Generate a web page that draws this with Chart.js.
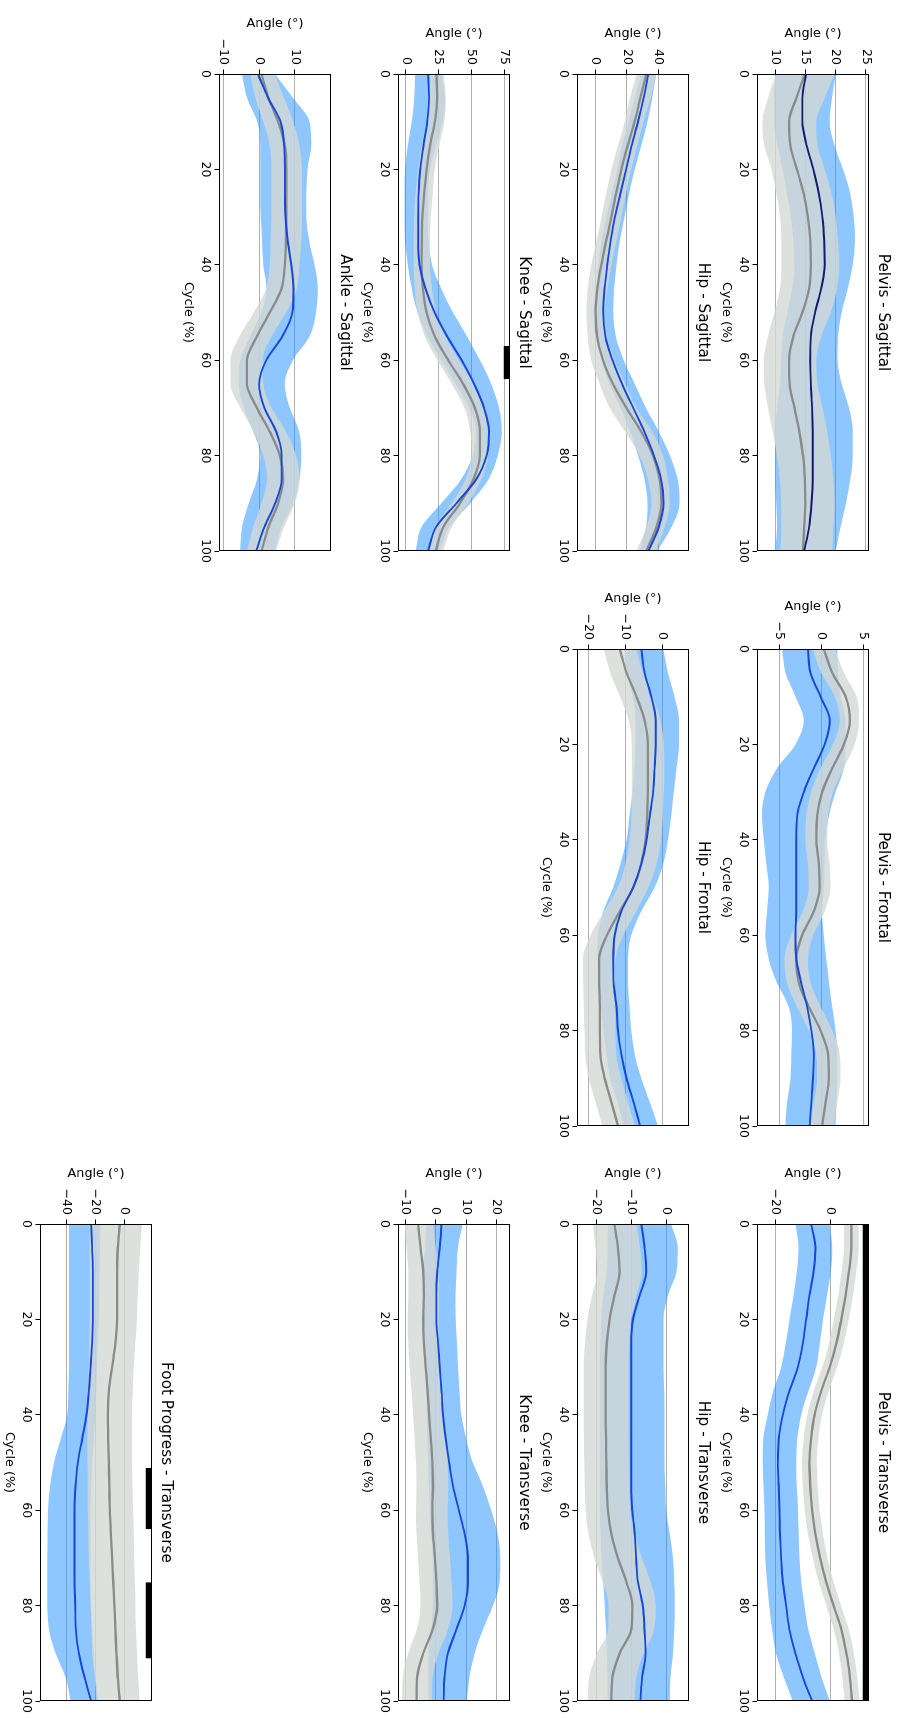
<!DOCTYPE html>
<html>
<head>
<meta charset="utf-8">
<script src="https://cdn.jsdelivr.net/npm/chart.js@4.4.1/dist/chart.umd.min.js"></script>
<style>
  html, body { margin: 0; padding: 0; background: #fff; overflow: hidden; }
  #fig { position: absolute; left: 0; top: 0; width: 1718px; height: 902px;
         transform-origin: 0 0; transform: translate(902px, 0) rotate(90deg); }
  #fig canvas { position: absolute; }
</style>
</head>
<body>
<div id="fig"></div>
<script>
// gait cycle (%) sampled every 5%
const cycle = [0, 5, 10, 15, 20, 25, 30, 35, 40, 45, 50, 55, 60, 65, 70, 75, 80, 85, 90, 95, 100];
const cycleTicks = [0, 20, 40, 60, 80, 100];

// Pelvis - Sagittal
const pelSagTicks = [10, 15, 20, 25];
const pelSagMean = [15.1, 14.5, 14.5, 15.2, 16.3, 17.2, 17.8, 18.1, 18.2, 17.6, 16.6, 15.9, 15.8, 15.9, 16.1, 16.2, 16.2, 16.2, 16.0, 15.6, 14.8];
const pelSagLo = [10.2, 9.8, 9.8, 10.4, 11.2, 11.9, 12.6, 13.0, 13.2, 12.8, 12.0, 11.2, 11.0, 10.8, 10.3, 10.0, 10.0, 10.0, 10.2, 10.3, 10.0];
const pelSagHi = [20.0, 19.4, 19.0, 19.8, 21.2, 22.4, 23.0, 23.2, 22.8, 22.0, 21.0, 20.4, 20.3, 21.0, 22.2, 22.8, 22.8, 22.4, 21.7, 20.8, 20.0];
const pelSagNormMean = [14.9, 13.5, 12.3, 12.5, 13.6, 14.7, 15.4, 15.8, 15.9, 15.6, 14.5, 13.0, 12.3, 12.4, 13.2, 14.0, 14.6, 14.9, 15.0, 14.8, 14.6];
const pelSagNormLo = [10.2, 8.8, 7.9, 8.2, 9.4, 10.2, 10.8, 11.0, 11.0, 10.8, 9.9, 8.8, 8.1, 8.2, 8.8, 9.6, 10.3, 10.8, 11.0, 11.0, 10.9];
const pelSagNormHi = [19.8, 18.2, 16.8, 17.0, 18.2, 19.3, 20.0, 20.4, 20.6, 20.2, 19.2, 17.6, 16.8, 17.0, 17.8, 18.6, 19.2, 19.6, 19.8, 19.6, 19.4];

// Hip - Sagittal
const hipSagTicks = [0, 20, 40];
const hipSagMean = [33.5, 30.5, 27.0, 23.0, 19.5, 16.0, 12.5, 9.8, 7.7, 6.0, 5.2, 6.5, 11.0, 17.0, 24.0, 31.0, 37.0, 41.5, 43.0, 40.0, 33.5];
const hipSagLo = [28.5, 25.0, 21.0, 17.0, 14.0, 10.5, 7.0, 4.0, 2.0, 0.5, -1.0, 0.0, 4.0, 9.0, 16.0, 22.0, 27.0, 31.0, 33.0, 32.0, 28.0];
const hipSagHi = [38.5, 36.0, 33.0, 29.0, 25.0, 21.5, 18.5, 15.5, 13.5, 12.0, 11.5, 13.0, 18.0, 25.0, 32.0, 40.0, 47.0, 52.0, 53.0, 48.0, 39.0];
const hipSagNormMean = [32.2, 28.5, 24.9, 20.5, 16.5, 13.3, 10.3, 7.0, 4.0, 1.5, 0.4, 1.3, 5.0, 11.3, 19.7, 29.0, 36.4, 40.6, 41.6, 38.5, 32.2];
const hipSagNormLo = [26.0, 22.0, 18.6, 14.5, 10.3, 7.0, 4.0, 1.0, -2.3, -4.5, -5.4, -4.5, -2.3, 3.0, 9.2, 19.0, 28.0, 33.3, 35.4, 32.2, 26.0];
const hipSagNormHi = [38.5, 35.0, 30.5, 26.5, 22.8, 19.5, 16.5, 13.5, 10.3, 7.8, 6.1, 7.5, 12.3, 19.0, 26.0, 36.0, 42.7, 45.8, 46.9, 43.7, 38.5];

// Knee - Sagittal
const kneeSagTicks = [0, 25, 50, 75];
const kneeSagMean = [17.0, 17.8, 16.3, 13.5, 11.0, 9.8, 9.5, 9.5, 10.5, 15.0, 22.0, 31.5, 42.5, 52.0, 59.5, 63.3, 61.5, 53.5, 38.5, 23.0, 17.0];
const kneeSagLo = [7.0, 6.5, 4.5, 1.5, -0.5, -1.0, -1.0, -0.5, 1.5, 4.5, 9.0, 16.5, 27.0, 38.0, 48.0, 53.5, 51.0, 42.0, 27.0, 12.0, 7.5];
const kneeSagHi = [27.0, 30.0, 28.0, 23.0, 18.5, 17.0, 17.0, 17.5, 20.0, 27.0, 36.0, 46.5, 56.5, 65.0, 71.0, 73.0, 70.0, 63.0, 49.0, 33.0, 26.0];
const kneeSagNormMean = [23.4, 23.8, 22.1, 18.5, 15.8, 14.0, 12.7, 12.2, 12.0, 13.0, 15.8, 22.1, 32.3, 43.7, 52.6, 56.4, 56.4, 51.4, 41.2, 28.5, 22.9];
const kneeSagNormLo = [18.5, 17.0, 15.5, 12.0, 9.5, 7.5, 6.5, 6.0, 6.0, 7.0, 9.0, 14.5, 24.0, 35.0, 44.5, 49.0, 50.0, 45.5, 35.0, 22.0, 17.5];
const kneeSagNormHi = [29.0, 30.5, 29.5, 25.5, 22.0, 20.5, 19.0, 18.5, 18.5, 20.0, 23.0, 30.0, 40.5, 52.0, 60.5, 63.5, 62.5, 57.5, 47.5, 35.0, 28.5];
const kneeSagBarStart = [57.0];
const kneeSagBarEnd = [64.0];

// Ankle - Sagittal
const ankSagTicks = [-10, 0, 10];
const ankSagMean = [-0.3, 2.5, 6.0, 7.0, 7.2, 7.2, 7.4, 8.0, 9.0, 9.6, 9.3, 6.5, 2.0, 0.0, 1.5, 4.8, 6.3, 6.3, 4.5, 1.5, -0.8];
const ankSagLo = [-4.8, -3.4, -0.5, 0.3, 0.3, 0.3, 0.5, 0.8, 1.2, 2.1, 0.7, -2.5, -5.3, -5.7, -4.3, -1.6, 0.3, -0.6, -2.9, -4.8, -5.3];
const ankSagHi = [4.4, 9.5, 14.1, 14.6, 13.5, 13.2, 13.2, 14.0, 15.5, 16.4, 15.9, 14.1, 9.5, 7.2, 8.6, 11.2, 11.8, 11.3, 9.5, 6.3, 4.4];
const ankSagNormMean = [0.7, 2.6, 5.3, 7.2, 7.6, 7.6, 7.6, 7.5, 7.2, 6.3, 3.0, -0.6, -3.4, -3.4, -0.6, 3.0, 5.8, 6.7, 5.3, 2.6, 0.7];
const ankSagNormLo = [-2.5, -1.0, 1.2, 3.0, 3.5, 3.5, 3.5, 3.2, 3.0, 2.0, -1.5, -5.5, -8.0, -8.0, -5.2, -1.5, 1.2, 2.2, 0.7, -1.6, -3.4];
const ankSagNormHi = [4.4, 7.0, 9.5, 11.3, 12.0, 12.0, 12.0, 11.8, 11.3, 10.5, 7.5, 3.5, 1.0, 1.2, 3.5, 7.5, 10.3, 11.3, 10.0, 7.0, 4.8];

// Pelvis - Frontal
const pelFroTicks = [-5, 0, 5];
const pelFroMean = [-1.6, -1.3, -0.1, 1.0, 0.4, -0.9, -2.1, -2.9, -3.0, -3.0, -3.0, -3.0, -3.1, -3.0, -2.4, -1.7, -1.2, -0.9, -1.0, -1.2, -1.4];
const pelFroLo = [-4.7, -4.3, -3.1, -2.1, -3.1, -5.3, -6.7, -7.1, -6.9, -6.6, -6.3, -6.5, -6.7, -6.3, -5.3, -3.9, -3.5, -3.6, -3.7, -4.1, -4.3];
const pelFroHi = [1.9, 2.0, 2.3, 2.9, 2.9, 2.7, 1.7, 0.9, 0.5, 0.4, 0.3, 0.1, 0.3, 0.6, 0.9, 1.3, 1.7, 1.9, 1.9, 1.8, 1.7];
const pelFroNormMean = [0.3, 1.3, 2.9, 3.4, 2.7, 1.3, 0.1, -0.5, -0.6, -0.3, -0.2, -0.9, -2.3, -3.0, -2.7, -1.5, -0.1, 0.8, 0.9, 0.5, 0.1];
const pelFroNormLo = [-1.0, 0.0, 1.6, 2.2, 1.4, -0.1, -1.2, -1.8, -1.9, -1.6, -1.5, -2.2, -3.6, -4.4, -4.1, -2.9, -1.5, -0.6, -0.5, -0.9, -1.3];
const pelFroNormHi = [1.6, 2.7, 4.2, 4.5, 4.0, 2.7, 1.4, 0.8, 0.7, 1.0, 1.1, 0.4, -1.0, -1.6, -1.3, -0.1, 1.3, 2.2, 2.3, 1.9, 1.5];

// Hip - Frontal
const hipFroTicks = [-20, -10, 0];
const hipFroMean = [-5.6, -4.7, -2.9, -1.7, -1.7, -2.0, -2.4, -3.3, -4.2, -5.6, -7.8, -11.0, -12.8, -13.2, -13.1, -12.3, -11.9, -11.0, -9.6, -7.7, -5.9];
const hipFroLo = [-10.0, -9.5, -8.0, -7.2, -7.2, -7.5, -8.0, -8.8, -9.6, -11.2, -13.2, -15.9, -17.3, -17.5, -17.0, -16.5, -15.9, -15.0, -14.1, -12.0, -10.5];
const hipFroHi = [0.3, 1.6, 3.4, 4.6, 4.6, 3.9, 3.2, 2.5, 1.6, 0.3, -2.0, -5.6, -8.3, -9.2, -9.2, -8.8, -8.3, -7.4, -5.6, -3.3, -1.1];
const hipFroNormMean = [-11.4, -9.6, -6.9, -4.7, -3.8, -3.8, -3.8, -4.0, -4.4, -5.6, -7.8, -11.4, -14.9, -17.0, -17.0, -16.8, -16.8, -16.7, -15.5, -13.7, -11.9];
const hipFroNormLo = [-15.8, -14.0, -11.4, -9.0, -8.2, -8.2, -8.2, -8.3, -8.7, -9.9, -12.0, -15.7, -19.3, -21.4, -21.3, -21.2, -21.0, -20.8, -19.8, -18.0, -16.2];
const hipFroNormHi = [-7.0, -5.2, -2.6, -0.5, 0.5, 0.6, 0.5, 0.2, -0.3, -1.5, -3.7, -7.0, -10.5, -12.6, -12.8, -12.7, -12.6, -12.4, -11.0, -9.2, -7.4];

// Pelvis - Transverse
const pelTraTicks = [-20, 0];
const pelTraMean = [-7.0, -5.4, -6.1, -7.6, -8.8, -10.0, -11.8, -14.9, -17.3, -18.8, -19.1, -18.8, -18.5, -18.3, -17.9, -17.3, -16.1, -14.9, -12.7, -10.0, -6.6];
const pelTraLo = [-12.7, -11.6, -12.2, -13.4, -14.9, -16.2, -17.9, -20.8, -22.8, -24.4, -24.6, -24.3, -24.0, -23.9, -23.7, -23.1, -22.2, -21.2, -19.8, -17.0, -13.7];
const pelTraHi = [-0.3, 0.7, 0.2, -1.2, -2.7, -3.8, -5.1, -7.9, -10.6, -12.0, -12.4, -12.2, -11.8, -11.5, -11.2, -10.6, -9.4, -8.0, -5.7, -3.2, -0.2];
const pelTraNormMean = [7.7, 7.7, 6.8, 5.6, 4.0, 2.2, -0.2, -3.3, -5.7, -7.0, -7.6, -7.3, -6.6, -5.4, -3.7, -1.5, 1.2, 4.0, 5.9, 7.1, 7.9];
const pelTraNormLo = [5.0, 5.0, 4.1, 2.9, 1.3, -0.5, -2.9, -6.0, -8.4, -9.7, -10.3, -10.0, -9.3, -8.1, -6.4, -4.2, -1.5, 1.3, 3.2, 4.4, 5.2];
const pelTraNormHi = [10.4, 10.4, 9.5, 8.3, 6.7, 4.9, 2.5, -0.6, -3.0, -4.3, -4.9, -4.6, -3.9, -2.7, -1.0, 1.2, 3.9, 6.7, 8.6, 9.8, 10.6];
const pelTraBarStart = [0];
const pelTraBarEnd = [100];

// Hip - Transverse
const hipTraTicks = [-20, -10, 0];
const hipTraMean = [-7.1, -6.2, -5.7, -7.6, -9.5, -10.0, -10.0, -10.0, -10.0, -10.0, -10.0, -10.0, -9.7, -9.0, -8.6, -8.1, -6.7, -6.2, -5.9, -6.9, -7.4];
const hipTraLo = [-16.7, -16.7, -17.1, -18.0, -18.6, -18.8, -19.0, -19.0, -19.0, -19.0, -19.0, -19.0, -19.0, -18.8, -18.5, -18.0, -17.6, -17.2, -17.0, -16.8, -16.7];
const hipTraHi = [1.4, 3.3, 2.9, 0.5, -0.8, -0.8, -0.8, -0.6, -0.5, -0.5, -0.5, -0.3, 0.0, 1.0, 1.9, 2.3, 2.4, 2.3, 1.9, 1.2, 1.0];
const hipTraNormMean = [-14.8, -13.8, -13.3, -14.8, -16.2, -17.0, -17.3, -17.3, -17.3, -17.2, -17.1, -17.0, -16.7, -15.7, -13.8, -11.4, -9.7, -10.0, -13.3, -15.4, -15.7];
const hipTraNormLo = [-21.0, -20.2, -19.8, -21.2, -22.5, -23.2, -23.6, -23.6, -23.6, -23.5, -23.4, -23.3, -23.0, -22.2, -20.5, -18.2, -16.5, -16.6, -19.8, -22.0, -22.4];
const hipTraNormHi = [-8.5, -7.5, -7.0, -8.5, -10.0, -10.6, -10.8, -10.8, -10.8, -10.7, -10.6, -10.5, -10.2, -9.0, -7.0, -4.5, -3.0, -3.5, -6.5, -8.6, -9.0];

// Knee - Transverse
const kneeTraTicks = [-10, 0, 10, 20];
const kneeTraMean = [1.9, 1.3, 0.5, 0.2, 0.2, 0.8, 1.3, 1.9, 2.4, 3.3, 4.4, 5.7, 7.6, 9.5, 10.6, 10.6, 9.5, 6.8, 4.0, 2.9, 2.6];
const kneeTraLo = [-3.0, -3.5, -4.0, -4.0, -4.0, -3.8, -3.5, -3.2, -3.0, -2.8, -2.5, -2.2, -2.0, -1.5, -1.0, -1.0, -1.0, -1.5, -2.5, -2.5, -2.5];
const kneeTraHi = [8.9, 7.3, 6.8, 6.5, 6.6, 7.0, 7.3, 7.8, 8.4, 10.0, 12.2, 15.5, 18.2, 20.4, 21.2, 21.0, 18.8, 15.5, 12.8, 11.1, 10.3];
const kneeTraNormMean = [-5.8, -5.0, -4.1, -3.9, -4.1, -3.9, -3.3, -2.7, -2.2, -1.6, -1.1, -0.9, -1.1, -0.9, -0.3, 0.2, 0.5, -1.0, -4.1, -6.1, -6.3];
const kneeTraNormLo = [-10.2, -9.6, -9.0, -9.0, -9.2, -9.0, -8.6, -8.0, -7.5, -7.0, -6.5, -6.3, -6.5, -6.3, -5.8, -5.3, -5.0, -6.2, -9.0, -10.8, -11.0];
const kneeTraNormHi = [-0.8, 0.0, 0.9, 1.1, 0.9, 1.1, 1.7, 2.3, 2.8, 3.4, 3.9, 4.1, 3.9, 4.1, 4.7, 5.2, 5.5, 4.0, 0.9, -1.1, -1.3];

// Foot Progress - Transverse
const footTicks = [-40, -20, 0];
const footMean = [-23.0, -22.3, -21.8, -21.8, -21.8, -22.3, -23.4, -24.6, -26.2, -29.2, -32.2, -33.8, -34.5, -34.5, -34.5, -34.5, -34.0, -33.6, -31.5, -27.6, -23.0];
const footLo = [-38.4, -38.4, -38.4, -38.4, -38.4, -38.4, -38.4, -38.8, -39.5, -44.1, -48.7, -51.5, -52.9, -53.2, -53.3, -53.3, -53.3, -52.2, -47.6, -40.7, -37.2];
const footHi = [-16.6, -16.8, -17.0, -17.3, -17.7, -18.3, -18.9, -19.4, -20.0, -21.0, -22.3, -23.0, -23.4, -23.4, -23.4, -23.2, -23.0, -22.3, -21.1, -20.0, -17.7];
const footNormMean = [-3.2, -4.6, -5.1, -5.1, -5.1, -6.2, -8.5, -10.8, -11.5, -11.2, -10.8, -10.4, -10.1, -9.3, -8.5, -7.7, -6.9, -6.2, -5.5, -4.6, -3.2];
const footNormLo = [-23.9, -23.9, -23.9, -23.9, -23.9, -24.3, -24.6, -25.3, -25.5, -25.5, -25.5, -25.4, -25.3, -24.8, -24.6, -24.0, -23.4, -22.8, -22.3, -20.5, -18.9];
const footNormHi = [12.2, 11.0, 9.9, 9.3, 8.7, 7.5, 6.4, 5.8, 5.3, 5.3, 5.3, 5.6, 6.0, 6.4, 6.9, 7.2, 7.6, 8.1, 8.7, 9.6, 10.6];
const footBarStart = [51.1, 75.1];
const footBarEnd = [64.0, 91.1];

// ---- layout (landscape figure, rotated onto the page afterwards) ----
const FONT = "'DejaVu Sans', sans-serif";
const colLeft = [74, 649, 1224];
const rowTop = [33, 213, 392, 571, 750];
const areaW = 477, areaH = 112;
const padL = 60, padR = 16, padT = 24, padB = 40;

const BLUE_BAND = 'rgba(30, 144, 255, 0.5)';
const GREY_BAND = 'rgba(212, 218, 212, 0.8)';
const GREY_LINE = '#8a8a8a';
const BLUE_LINE = '#1547d8';

const panels = [
  {title: 'Pelvis - Sagittal', col: 0, row: 0, yMin: 7.0, yMax: 25.5, yTicks: pelSagTicks, labelOff: 40.6,
   mean: pelSagMean, lo: pelSagLo, hi: pelSagHi, nMean: pelSagNormMean, nLo: pelSagNormLo, nHi: pelSagNormHi, line: '#141b70'},
  {title: 'Hip - Sagittal', col: 0, row: 1, yMin: -11.3, yMax: 59, yTicks: hipSagTicks, labelOff: 40.6,
   mean: hipSagMean, lo: hipSagLo, hi: hipSagHi, nMean: hipSagNormMean, nLo: hipSagNormLo, nHi: hipSagNormHi},
  {title: 'Knee - Sagittal', col: 0, row: 2, yMin: -5.9, yMax: 79.3, yTicks: kneeSagTicks, labelOff: 40.6,
   mean: kneeSagMean, lo: kneeSagLo, hi: kneeSagHi, nMean: kneeSagNormMean, nLo: kneeSagNormLo, nHi: kneeSagNormHi,
   barStart: kneeSagBarStart, barEnd: kneeSagBarEnd},
  {title: 'Ankle - Sagittal', col: 0, row: 3, yMin: -11.2, yMax: 20.1, yTicks: ankSagTicks, labelOff: 50.3,
   mean: ankSagMean, lo: ankSagLo, hi: ankSagHi, nMean: ankSagNormMean, nLo: ankSagNormLo, nHi: ankSagNormHi},
  {title: 'Pelvis - Frontal', col: 1, row: 0, yMin: -7.7, yMax: 5.7, yTicks: pelFroTicks, labelOff: 42,
   mean: pelFroMean, lo: pelFroLo, hi: pelFroHi, nMean: pelFroNormMean, nLo: pelFroNormLo, nHi: pelFroNormHi},
  {title: 'Hip - Frontal', col: 1, row: 1, yMin: -23, yMax: 7.3, yTicks: hipFroTicks, labelOff: 50.3,
   mean: hipFroMean, lo: hipFroLo, hi: hipFroHi, nMean: hipFroNormMean, nLo: hipFroNormLo, nHi: hipFroNormHi},
  {title: 'Pelvis - Transverse', col: 2, row: 0, yMin: -26.7, yMax: 14.1, yTicks: pelTraTicks, labelOff: 50.3,
   mean: pelTraMean, lo: pelTraLo, hi: pelTraHi, nMean: pelTraNormMean, nLo: pelTraNormLo, nHi: pelTraNormHi,
   barStart: pelTraBarStart, barEnd: pelTraBarEnd},
  {title: 'Hip - Transverse', col: 2, row: 1, yMin: -25.5, yMax: 6.5, yTicks: hipTraTicks, labelOff: 50.3,
   mean: hipTraMean, lo: hipTraLo, hi: hipTraHi, nMean: hipTraNormMean, nLo: hipTraNormLo, nHi: hipTraNormHi},
  {title: 'Knee - Transverse', col: 2, row: 2, yMin: -12.4, yMax: 24.4, yTicks: kneeTraTicks, labelOff: 50.3,
   mean: kneeTraMean, lo: kneeTraLo, hi: kneeTraHi, nMean: kneeTraNormMean, nLo: kneeTraNormLo, nHi: kneeTraNormHi},
  {title: 'Foot Progress - Transverse', col: 2, row: 4, yMin: -58.4, yMax: 19.1, yTicks: footTicks, labelOff: 50.3,
   mean: footMean, lo: footLo, hi: footHi, nMean: footNormMean, nLo: footNormLo, nHi: footNormHi,
   barStart: footBarStart, barEnd: footBarEnd},
];

const pts = ys => cycle.map((c, i) => ({x: c, y: ys[i]}));
const fmt = v => (v < 0 ? '\u2212' + Math.abs(v) : String(v));

// full black frame round the plot area, like matplotlib spines
const spines = {
  id: 'spines',
  afterDraw(chart) {
    const a = chart.chartArea, ctx = chart.ctx;
    ctx.save();
    ctx.strokeStyle = '#000';
    ctx.lineWidth = 1;
    ctx.strokeRect(Math.round(a.left) + 0.5, Math.round(a.top) + 0.5,
                   Math.round(a.right - a.left) - 1, Math.round(a.bottom - a.top) - 1);
    ctx.restore();
  }
};

const fig = document.getElementById('fig');

panels.forEach(p => {
  const canvas = document.createElement('canvas');
  const w = padL + areaW + padR, h = padT + areaH + padB;
  canvas.width = w;
  canvas.height = h;
  canvas.style.left = (colLeft[p.col] - padL) + 'px';
  canvas.style.top = (rowTop[p.row] - padT) + 'px';
  fig.appendChild(canvas);

  const curve = {pointRadius: 0, cubicInterpolationMode: 'monotone'};
  const datasets = [
    {...curve, data: pts(p.mean), borderColor: p.line || BLUE_LINE, borderWidth: 1.9, fill: false, order: 0},
    {...curve, data: pts(p.nMean), borderColor: GREY_LINE, borderWidth: 2.3, fill: false, order: 1},
    {...curve, data: pts(p.nHi), borderWidth: 0, backgroundColor: GREY_BAND, fill: '+1', order: 2},
    {...curve, data: pts(p.nLo), borderWidth: 0, fill: false, order: 3},
    {...curve, data: pts(p.hi), borderWidth: 0, backgroundColor: BLUE_BAND, fill: '+1', order: 4},
    {...curve, data: pts(p.lo), borderWidth: 0, fill: false, order: 5},
  ];
  if (p.barStart) {
    const barY = p.yMax - 0.055 * (p.yMax - p.yMin);
    p.barStart.forEach((s, i) => {
      datasets.push({pointRadius: 0, tension: 0, borderWidth: 0, backgroundColor: '#000', fill: 'end', order: -1,
                     data: [{x: s, y: barY}, {x: p.barEnd[i], y: barY}]});
    });
  }

  new Chart(canvas, {
    type: 'line',
    data: {datasets},
    options: {
      responsive: false,
      devicePixelRatio: 1,
      animation: false,
      layout: {padding: {left: 0, top: 0, right: padR, bottom: 0}},
      plugins: {
        legend: {display: false},
        tooltip: {enabled: false},
        title: {
          display: true, text: p.title, fullSize: false, color: '#000',
          font: {family: FONT, size: 15.3, weight: 'normal', lineHeight: 1.2},
          padding: {top: 0.8, bottom: 4.84}
        }
      },
      scales: {
        x: {
          type: 'linear', min: 0, max: 100,
          afterBuildTicks: s => { s.ticks = cycleTicks.map(v => ({value: v})); },
          afterFit: s => { s.height = padB; },
          grid: {drawOnChartArea: false, drawTicks: true, tickLength: 4.5, tickColor: '#000'},
          border: {display: false},
          ticks: {autoSkip: false, maxRotation: 0, padding: 2, color: '#000', font: {family: FONT, size: 12.5}},
          title: {display: true, text: 'Cycle (%)', color: '#000', font: {family: FONT, size: 12.8, lineHeight: 1.2},
                  padding: {top: 0, bottom: 1.3}}
        },
        y: {
          type: 'linear', min: p.yMin, max: p.yMax,
          afterBuildTicks: s => { s.ticks = p.yTicks.map(v => ({value: v})); },
          afterFit: s => { s.width = padL; },
          grid: {color: '#b0b0b0', lineWidth: 1, drawTicks: true, tickLength: 4.5, tickColor: '#000'},
          border: {display: false},
          ticks: {autoSkip: false, padding: 4.5, color: '#000', font: {family: FONT, size: 12.5}, callback: v => fmt(v)},
          title: {display: true, text: 'Angle (°)', color: '#000', font: {family: FONT, size: 12.8, lineHeight: 1.2},
                  padding: {top: padL - p.labelOff - 7.68, bottom: 0}}
        }
      }
    },
    plugins: [spines]
  });
});
</script>
</body>
</html>
